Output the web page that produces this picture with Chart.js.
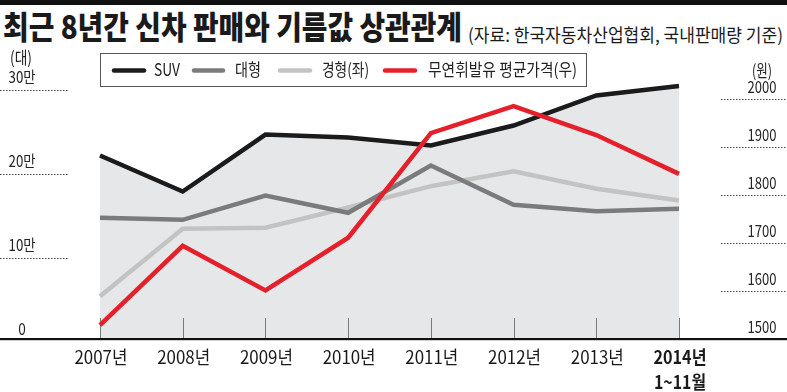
<!DOCTYPE html>
<html><head><meta charset="utf-8">
<script src="https://cdn.jsdelivr.net/npm/chart.js@4.4.1/dist/chart.umd.min.js"></script>
<style>
html,body{margin:0;padding:0;background:#fff;}
#wrap{position:relative;width:787px;height:392px;overflow:hidden;background:#fff;}
#bar{position:absolute;left:0;top:0;width:787px;height:5px;background:#111;}
.t{position:absolute;white-space:nowrap;transform-origin:0 0;color:#1a1a1a;font-family:"Noto Sans CJK KR","Noto Sans",sans-serif;line-height:1;}
#title{left:3px;top:9px;font-size:32px;font-weight:900;}
#sub{left:468px;top:25px;font-size:18px;font-weight:400;}
#cv{position:absolute;left:0;top:0;}
</style></head>
<body>
<div id="wrap">
  <div id="bar"></div>
  <div class="t" id="title">최근 8년간 신차 판매와 기름값 상관관계</div>
  <div class="t" id="sub">(자료: 한국자동차산업협회, 국내판매량 기준)</div>
  <div style="position:absolute;left:0;top:0;width:787px;height:392px;"><canvas id="cv"></canvas></div>
</div>
<script>
// ---- data ----
const years = ['2007','2008','2009','2010','2011','2012','2013','2014'];
const yearLabels = ['2007년','2008년','2009년','2010년','2011년','2012년','2013년','2014년'];
const lastYearNote = '1~11월';
const seriesNames = ['SUV','대형','경형(좌)','무연휘발유 평균가격(우)'];
const suvSales   = [221400,178600,246400,243000,233300,257100,292900,304200];
const largeSales = [147300,144900,173800,153200,209500,162700,155100,158000];
const lightSales = [53900,134200,135400,159500,184900,202700,181800,167900];
const gasPrice   = [1529,1694,1601,1711,1929,1985,1925,1844];
const leftTicks = [0,100000,200000,300000];
const leftTickLabels = ['0','10만','20만','30만'];
const rightTicks = [1500,1600,1700,1800,1900,2000];
const rightTickLabels = ['1500','1600','1700','1800','1900','2000'];
const leftUnit = '(대)';
const rightUnit = '(원)';

// condense HTML title texts
function fitWidth(id, w){
  const el = document.getElementById(id);
  const r = el.getBoundingClientRect().width;
  el.style.transform = 'scaleX(' + (w / r) + ')';
}
fitWidth('title', 459);
fitWidth('sub', 315);

const FONT = '"Noto Sans CJK KR","Noto Sans",sans-serif';
function txt(ctx, s, x, y, font, opt){
  ctx.save();
  ctx.font = font;
  const m = ctx.measureText(s).width;
  const sc = opt.w ? opt.w / m : (opt.sc || 0.85);
  ctx.translate(x, y);
  ctx.scale(sc, 1);
  ctx.textAlign = opt.align || 'center';
  ctx.textBaseline = 'middle';
  ctx.fillStyle = opt.color || '#222';
  ctx.fillText(s, 0, 0);
  ctx.restore();
}

const deco = {
  id: 'deco',
  beforeDatasetsDraw(chart){
    const ctx = chart.ctx, xs = chart.scales.x, ca = chart.chartArea;
    ctx.save();
    ctx.strokeStyle = '#7a7a7a';
    ctx.lineWidth = 1;
    years.forEach((y,i)=>{
      const px = Math.round(xs.getPixelForValue(i)) + 0.5;
      ctx.beginPath(); ctx.moveTo(px, 318); ctx.lineTo(px, ca.bottom); ctx.stroke();
    });
    ctx.restore();
  },
  afterDatasetsDraw(chart){
    const ctx = chart.ctx, xs = chart.scales.x, yl = chart.scales.yL, yr = chart.scales.yR;
    ctx.save();
    ctx.fillStyle = '#111';
    ctx.fillRect(0, 338, 787, 2.2);
    ctx.restore();
    ctx.save();
    ctx.strokeStyle = '#444'; ctx.lineWidth = 1; ctx.setLineDash([1.5,1.5]);
    leftTicks.forEach((v,i)=>{
      const py = yl.getPixelForValue(v);
      if (v !== 0){
        ctx.beginPath(); ctx.moveTo(0, Math.round(py)+0.5); ctx.lineTo(68, Math.round(py)+0.5); ctx.stroke();
      }
    });
    rightTicks.forEach((v,i)=>{
      const py = yr.getPixelForValue(v);
      if (v !== 1500){
        ctx.beginPath(); ctx.moveTo(721, Math.round(py)+0.5); ctx.lineTo(787, Math.round(py)+0.5); ctx.stroke();
      }
    });
    ctx.restore();
    leftTicks.forEach((v,i)=>{
      const py = yl.getPixelForValue(v);
      const lab = leftTickLabels[i];
      txt(ctx, lab, 22, py - 13, '16px ' + FONT, lab.length > 1 ? {w:27} : {sc:0.85});
    });
    rightTicks.forEach((v,i)=>{
      const py = yr.getPixelForValue(v);
      txt(ctx, rightTickLabels[i], 762, py - 12, '16px ' + FONT, {w:29});
    });
    txt(ctx, leftUnit, 21, 58, '17px ' + FONT, {w:22});
    txt(ctx, rightUnit, 762, 71, '17px ' + FONT, {w:20});
    years.forEach((y,i)=>{
      const px = xs.getPixelForValue(i);
      const last = i === years.length - 1;
      txt(ctx, yearLabels[i], px + 1, 357, (last ? 'bold ' : '') + '18px ' + FONT, {w:53, color:'#1a1a1a'});
      if (last) txt(ctx, lastYearNote, px + 1, 382, 'bold 18px ' + FONT, {w:52, color:'#1a1a1a'});
    });
    ctx.save();
    ctx.fillStyle = '#fff';
    ctx.fillRect(100.5, 53.5, 486, 33);
    ctx.strokeStyle = '#555'; ctx.lineWidth = 1;
    ctx.strokeRect(100.5, 53.5, 486, 33);
    ctx.restore();
    const lx = [[112,146,154,26],[192,225,235,26],[278,312,322,47],[383,417,428,149]];
    chart.data.datasets.forEach((ds,i)=>{
      const [a,b,tx,tw] = lx[i];
      ctx.save();
      ctx.strokeStyle = ds.borderColor; ctx.lineWidth = 4.5; ctx.lineCap = 'round';
      ctx.beginPath(); ctx.moveTo(a+2, 70.5); ctx.lineTo(b-2, 70.5); ctx.stroke();
      ctx.restore();
      txt(ctx, ds.label, tx, 70, '17px ' + FONT, {w:tw, align:'left', color:'#222'});
    });
  }
};

new Chart(document.getElementById('cv'), {
  type: 'line',
  data: {
    labels: years,
    datasets: [
      {label: seriesNames[0], data: suvSales, yAxisID:'yL', borderColor:'#1b1b1b', backgroundColor:'#e6e7e9', fill:'start', order:3},
      {label: seriesNames[1], data: largeSales, yAxisID:'yL', borderColor:'#7b7b7b', fill:false, order:2},
      {label: seriesNames[2], data: lightSales, yAxisID:'yL', borderColor:'#c3c3c3', fill:false, order:2.5},
      {label: seriesNames[3], data: gasPrice, yAxisID:'yR', borderColor:'#e5202a', fill:false, order:0}
    ]
  },
  options: {
    responsive: true,
    maintainAspectRatio: false,
    animation: false,
    devicePixelRatio: 1,
    layout: {padding: {left:100, right:108, top:80, bottom:52}},
    elements: {
      line: {borderWidth:4.5, tension:0, borderJoinStyle:'miter', borderCapStyle:'butt'},
      point: {radius:0, hoverRadius:0}
    },
    scales: {
      x: {display:false, offset:false},
      yL: {display:false, position:'left', min:1800, max:311324},
      yR: {display:false, position:'right', min:1497.9, max:2039.6}
    },
    plugins: {
      legend: {display:false},
      tooltip: {enabled:false},
      filler: {drawTime:'beforeDatasetsDraw'}
    }
  },
  plugins: [deco]
});
</script>
</body></html>
